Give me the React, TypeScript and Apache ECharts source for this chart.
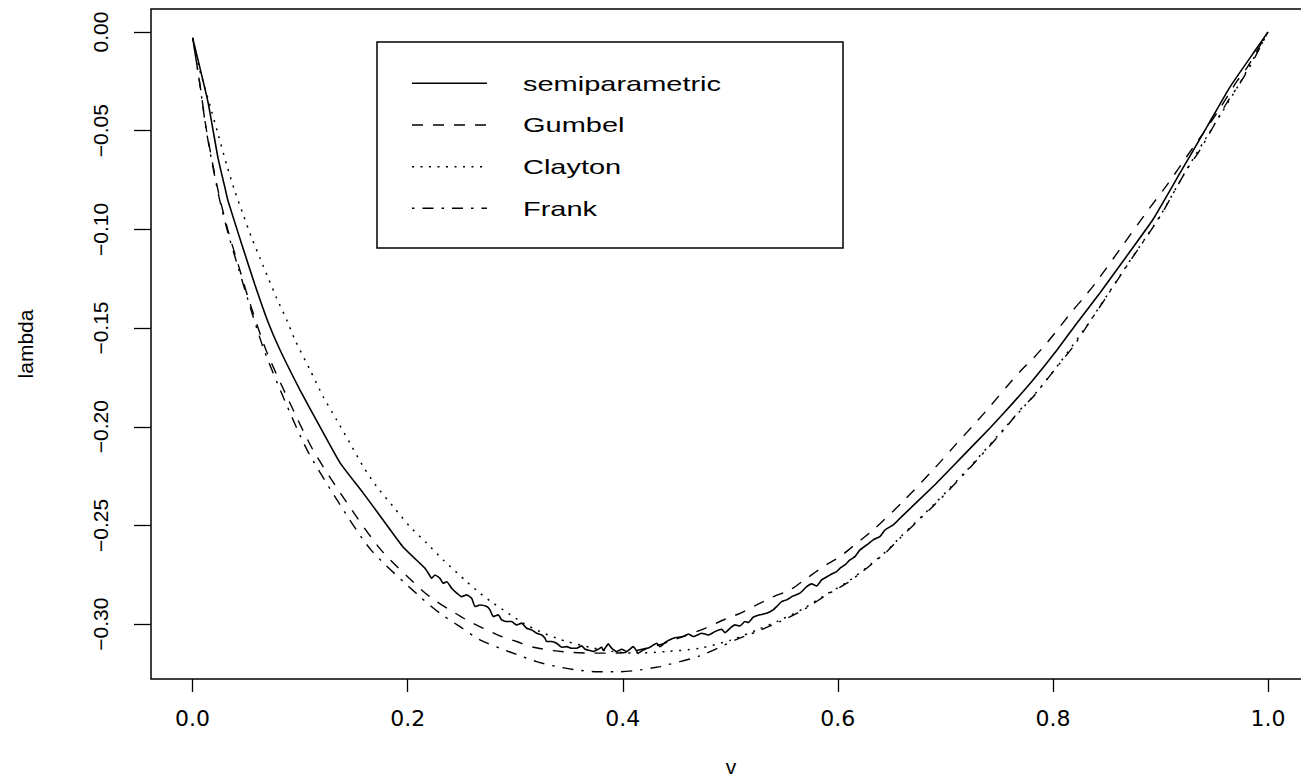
import React, { useEffect, useRef } from "react";
import * as echarts from "echarts";

// ---- data (v, lambda) ----
const semiV = [0.0, 0.0143, 0.0236, 0.0301, 0.0329, 0.0459, 0.058, 0.0701, 0.0813, 0.0999, 0.1185, 0.1371, 0.1585, 0.1771, 0.1957, 0.2114, 0.2161, 0.2192, 0.2223, 0.2254, 0.23, 0.2331, 0.2363, 0.2409, 0.2456, 0.2502, 0.2549, 0.2595, 0.2626, 0.2672, 0.2735, 0.2765, 0.2796, 0.2842, 0.2874, 0.292, 0.2967, 0.3013, 0.306, 0.3106, 0.3153, 0.3199, 0.3246, 0.3277, 0.3292, 0.3339, 0.3385, 0.3432, 0.3478, 0.3525, 0.3571, 0.3618, 0.3649, 0.3695, 0.3726, 0.3772, 0.3804, 0.3819, 0.3865, 0.3897, 0.3943, 0.399, 0.4036, 0.4098, 0.4144, 0.4191, 0.4253, 0.4315, 0.4346, 0.44, 0.447, 0.4562, 0.4609, 0.4656, 0.4733, 0.4795, 0.4857, 0.492, 0.495, 0.4997, 0.5043, 0.509, 0.5136, 0.5167, 0.5213, 0.5276, 0.5338, 0.5399, 0.5431, 0.5477, 0.5524, 0.5585, 0.5648, 0.571, 0.5756, 0.5803, 0.5849, 0.5911, 0.5942, 0.5989, 0.6019, 0.6066, 0.6112, 0.6159, 0.6206, 0.6268, 0.6329, 0.6391, 0.6438, 0.6515, 0.6577, 0.69, 0.715, 0.7415, 0.7629, 0.7815, 0.8038, 0.8224, 0.8437, 0.87, 0.893, 0.9181, 0.9432, 0.9646, 0.9897, 1.0];
const semiL = [-0.003, -0.0355, -0.0638, -0.079, -0.0855, -0.1079, -0.1282, -0.1469, -0.1611, -0.1814, -0.2001, -0.2183, -0.2335, -0.2472, -0.2609, -0.2692, -0.2717, -0.2742, -0.2768, -0.2751, -0.2768, -0.2793, -0.2785, -0.2818, -0.2843, -0.2861, -0.2852, -0.2869, -0.2911, -0.2903, -0.2911, -0.2928, -0.2962, -0.2953, -0.2979, -0.2987, -0.2987, -0.3004, -0.2995, -0.3021, -0.3029, -0.3046, -0.3055, -0.3071, -0.3088, -0.3088, -0.3097, -0.3117, -0.3114, -0.3122, -0.3122, -0.311, -0.3127, -0.3134, -0.3139, -0.3127, -0.3117, -0.3134, -0.31, -0.3122, -0.3139, -0.3127, -0.3139, -0.3114, -0.3147, -0.3131, -0.3117, -0.3097, -0.3114, -0.309, -0.3071, -0.3063, -0.305, -0.3063, -0.3046, -0.3055, -0.3038, -0.3026, -0.3043, -0.3021, -0.3004, -0.3009, -0.2987, -0.2992, -0.2965, -0.2953, -0.2945, -0.2928, -0.2911, -0.2886, -0.2877, -0.2857, -0.2843, -0.281, -0.2796, -0.2806, -0.2776, -0.2756, -0.2746, -0.2734, -0.2717, -0.27, -0.2675, -0.2658, -0.2624, -0.2599, -0.2573, -0.2557, -0.2523, -0.2497, -0.2464, -0.2295, -0.2155, -0.2006, -0.1879, -0.1763, -0.1611, -0.1474, -0.1322, -0.1125, -0.095, -0.0715, -0.0481, -0.0279, -0.0081, 0.0];

const gumbelV = [0.0, 0.0069, 0.0131, 0.0239, 0.0332, 0.0425, 0.0518, 0.0682, 0.0891, 0.1119, 0.1417, 0.1752, 0.213, 0.227, 0.2393, 0.2549, 0.2703, 0.2858, 0.3013, 0.3168, 0.3354, 0.354, 0.3726, 0.4, 0.42, 0.44, 0.46, 0.4764, 0.4935, 0.509, 0.5245, 0.5399, 0.5555, 0.571, 0.5864, 0.6019, 0.6175, 0.6329, 0.66, 0.69, 0.71, 0.7291, 0.7414, 0.757, 0.7693, 0.7817, 0.7941, 0.8065, 0.8189, 0.8282, 0.8406, 0.865, 0.8886, 0.9072, 0.9243, 0.9398, 0.9553, 0.9708, 0.9801, 1.0];
const gumbelL = [-0.003, -0.0268, -0.0505, -0.0809, -0.1012, -0.118, -0.1349, -0.1611, -0.1864, -0.2117, -0.2371, -0.2624, -0.2827, -0.2886, -0.2928, -0.2979, -0.3021, -0.306, -0.3088, -0.3117, -0.3134, -0.3144, -0.3147, -0.3145, -0.3125, -0.3095, -0.3055, -0.3021, -0.2979, -0.2945, -0.2903, -0.2861, -0.2827, -0.2768, -0.2709, -0.2658, -0.259, -0.2523, -0.2382, -0.221, -0.2088, -0.1974, -0.1898, -0.1797, -0.1721, -0.1653, -0.1577, -0.1493, -0.1408, -0.1349, -0.1265, -0.108, -0.0902, -0.0767, -0.0632, -0.0513, -0.0387, -0.0252, -0.0184, 0.0];

const claytonV = [0.0, 0.0053, 0.0115, 0.0178, 0.0239, 0.0317, 0.0394, 0.0471, 0.055, 0.0627, 0.0704, 0.0782, 0.0875, 0.0952, 0.1092, 0.1215, 0.134, 0.1464, 0.1587, 0.1712, 0.1866, 0.2021, 0.2177, 0.2331, 0.2549, 0.2672, 0.2796, 0.2935, 0.3075, 0.323, 0.3385, 0.3478, 0.37, 0.39, 0.4098, 0.4408, 0.4718, 0.5, 0.5245, 0.5462, 0.5678, 0.5896, 0.6082, 0.6268, 0.6454, 0.6577, 0.69, 0.72, 0.757, 0.7817, 0.8065, 0.8313, 0.8437, 0.87, 0.8995, 0.9243, 0.9491, 0.9739, 1.0];
const claytonL = [-0.003, -0.0167, -0.0285, -0.0404, -0.0522, -0.0674, -0.0809, -0.0927, -0.1045, -0.1146, -0.1248, -0.1349, -0.1459, -0.156, -0.1712, -0.1848, -0.1966, -0.2084, -0.2202, -0.2303, -0.2405, -0.2506, -0.259, -0.2675, -0.2785, -0.2843, -0.2894, -0.2945, -0.2995, -0.3038, -0.3071, -0.3088, -0.3118, -0.3138, -0.3147, -0.3139, -0.3122, -0.3082, -0.303, -0.298, -0.2922, -0.2848, -0.2789, -0.2713, -0.2629, -0.2561, -0.239, -0.222, -0.1995, -0.1845, -0.1675, -0.149, -0.1389, -0.1172, -0.0933, -0.0697, -0.0478, -0.0258, 0.0];

const frankV = [0.0, 0.0069, 0.0131, 0.0239, 0.0332, 0.0425, 0.0515, 0.0664, 0.0854, 0.1064, 0.1343, 0.1659, 0.2114, 0.23, 0.2486, 0.2672, 0.2858, 0.3045, 0.3199, 0.3385, 0.3571, 0.3757, 0.3974, 0.416, 0.4346, 0.4408, 0.4718, 0.5059, 0.5245, 0.5462, 0.5678, 0.5896, 0.6082, 0.6268, 0.6454, 0.6577, 0.69, 0.72, 0.757, 0.7693, 0.7817, 0.7941, 0.8065, 0.8189, 0.8313, 0.8437, 0.87, 0.8995, 0.9119, 0.9243, 0.9367, 0.9491, 0.9615, 0.9739, 0.9832, 1.0];
const frankL = [-0.003, -0.0272, -0.0512, -0.082, -0.1025, -0.1195, -0.1358, -0.1611, -0.1864, -0.2117, -0.2371, -0.2624, -0.2861, -0.2945, -0.3013, -0.308, -0.3122, -0.316, -0.319, -0.3215, -0.3232, -0.3241, -0.3241, -0.3232, -0.3215, -0.3207, -0.3161, -0.3077, -0.3038, -0.2987, -0.2928, -0.2852, -0.2793, -0.2717, -0.2633, -0.2565, -0.2395, -0.2225, -0.1999, -0.1915, -0.1848, -0.1763, -0.1678, -0.1594, -0.1493, -0.1392, -0.1175, -0.0936, -0.0817, -0.0699, -0.0598, -0.048, -0.0361, -0.026, -0.0176, 0.0];

const xTicks = [0, 0.2, 0.4, 0.6, 0.8, 1.0];
const yTicks = [-0.3, -0.25, -0.2, -0.15, -0.1, -0.05, 0.0];
const seriesNames = ["semiparametric", "Gumbel", "Clayton", "Frank"];
const xAxisTitle = "v";
const yAxisTitle = "lambda";

const zip = (a: number[], b: number[]) => a.map((v, i) => [v, b[i]]);

const dashStyles: (string | number[])[] = ["solid", [11, 10], [2, 6.5], [2.5, 8, 11, 8]];
const widths = [1.6, 1.4, 1.5, 1.4];

export default function App() {
  const ref = useRef<HTMLDivElement>(null);

  useEffect(() => {
    if (!ref.current) return;
    const chart = echarts.init(ref.current, undefined, { renderer: "svg" });
    const datasets = [zip(semiV, semiL), zip(gumbelV, gumbelL), zip(claytonV, claytonL), zip(frankV, frankL)];

    const legendLeft = 377;
    const legendTop = 42;
    const rowY = [83.3, 125, 166.7, 208.3];
    const legendGraphics: any[] = [
      {
        type: "rect",
        shape: { x: legendLeft, y: legendTop, width: 466, height: 206 },
        style: { fill: "#fff", stroke: "#000", lineWidth: 1.5 },
        z: 10,
      },
    ];
    seriesNames.forEach((name, i) => {
      const ds = dashStyles[i];
      legendGraphics.push({
        type: "line",
        shape: { x1: 412, y1: rowY[i], x2: 487, y2: rowY[i] },
        style: {
          stroke: "#000",
          lineWidth: widths[i],
          lineDash: typeof ds === "string" ? null : ds,
        },
        z: 11,
      });
      legendGraphics.push({
        type: "text",
        x: 523,
        y: rowY[i],
        scaleX: 1.38,
        style: {
          text: name,
          fontFamily: "Liberation Sans",
          fontSize: 21,
          fill: "#000",
          verticalAlign: "middle",
          align: "left",
        },
        z: 11,
      });
    });

    chart.setOption({
      animation: false,
      backgroundColor: "#fff",
      grid: {
        left: 151,
        top: 9,
        right: -10,
        bottom: 102,
        show: true,
        borderColor: "#000",
        borderWidth: 1.5,
        backgroundColor: "transparent",
        containLabel: false,
        outerBoundsMode: "none",
      },
      xAxis: {
        type: "value",
        min: -0.0387,
        max: 1.04,
        position: "bottom",
        axisLine: { show: false, onZero: false },
        splitLine: { show: false },
        axisTick: {
          show: true,
          length: 13,
          customValues: xTicks,
          lineStyle: { color: "#000", width: 1.3 },
        },
        axisLabel: {
          show: true,
          customValues: xTicks,
          margin: 28,
          color: "#000",
          fontFamily: "DejaVu Sans",
          fontSize: 22,
          formatter: (v: number) => v.toFixed(1),
        },
        name: xAxisTitle,
        nameLocation: "middle",
        nameGap: 77,
        nameTextStyle: { color: "#000", fontFamily: "Liberation Sans", fontSize: 21 },
      },
      yAxis: {
        type: "value",
        min: -0.3278,
        max: 0.01165,
        position: "left",
        axisLine: { show: false, onZero: false },
        splitLine: { show: false },
        axisTick: {
          show: true,
          length: 17,
          customValues: yTicks,
          lineStyle: { color: "#000", width: 1.3 },
        },
        axisLabel: {
          show: true,
          customValues: yTicks,
          rotate: 90,
          margin: 40,
          color: "#000",
          fontFamily: "Liberation Sans",
          fontSize: 21,
          formatter: (v: number) => v.toFixed(2).replace("-", "\u2212"),
        },
        name: yAxisTitle,
        nameLocation: "middle",
        nameGap: 115,
        nameRotate: 90,
        nameTextStyle: { color: "#000", fontFamily: "Liberation Sans", fontSize: 21 },
      },
      graphic: legendGraphics,
      series: datasets.map((d, i) => ({
        type: "line",
        name: seriesNames[i],
        data: d,
        showSymbol: false,
        symbol: "none",
        smooth: i === 0 ? 0.15 : 0.25,
        clip: true,
        lineStyle: { color: "#000", width: widths[i], type: dashStyles[i] },
        z: 5 - i,
      })),
    });

    return () => chart.dispose();
  }, []);

  return (
    <div
      ref={ref}
      style={{ position: "absolute", left: 0, top: 0, width: 1301, height: 781, background: "#fff" }}
    />
  );
}
